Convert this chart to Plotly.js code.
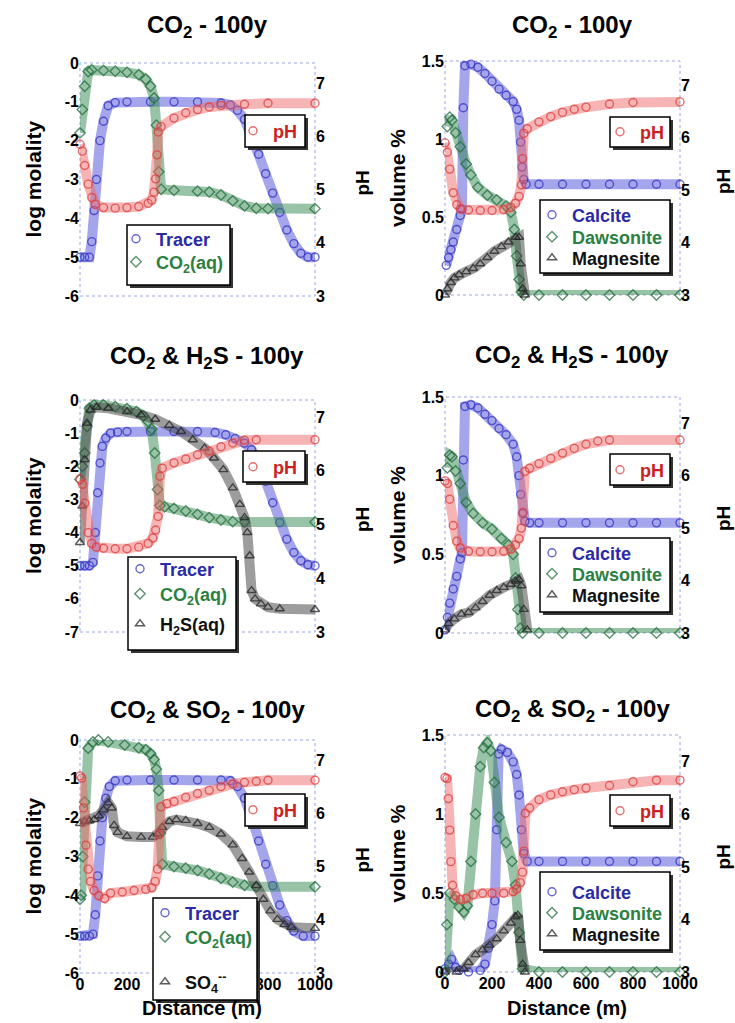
<!DOCTYPE html>
<html><head><meta charset="utf-8">
<script src="https://cdn.plot.ly/plotly-3.0.1.min.js"></script>
<style>html,body{margin:0;padding:0;background:#fff}#chart{width:735px;height:1023px}</style>
</head><body><div id="chart"></div>
<script>
// ---------------- DATA (distance in m; log molality / volume % / pH) ----------------
const distTicks = [0, 200, 400, 600, 800, 1000];
const logTicks6 = [0, -1, -2, -3, -4, -5, -6];
const logLabels6 = ['0', '-1', '-2', '-3', '-4', '-5', '-6'];
const logTicks7 = [0, -1, -2, -3, -4, -5, -6, -7];
const logLabels7 = ['0', '-1', '-2', '-3', '-4', '-5', '-6', '-7'];
const volTicks = [0, 0.5, 1, 1.5];
const volLabels = ['0', '0.5', '1', '1.5'];
const phTicks = [3, 4, 5, 6, 7];

// Panel 1: CO2 - 100y (aqueous)
const p1TracerX = [0,20,40,50,60,70,85,100,120,150,200,300,400,500,600,640,670,700,730,760,790,820,850,880,910,940,970,1000];
const p1TracerY = [-5,-5,-5,-4.6,-3.8,-3.0,-2.0,-1.5,-1.1,-1.02,-1.0,-1.0,-1.0,-1.0,-1.03,-1.08,-1.22,-1.45,-1.85,-2.35,-2.85,-3.35,-3.85,-4.3,-4.65,-4.9,-5.0,-5.0];
const p1Co2X = [0,10,20,35,50,100,150,200,250,280,300,315,325,335,345,400,500,550,600,650,700,750,800,1000];
const p1Co2Y = [-1.8,-1.2,-0.6,-0.22,-0.18,-0.19,-0.21,-0.24,-0.3,-0.42,-0.6,-0.9,-1.6,-2.8,-3.25,-3.28,-3.3,-3.32,-3.4,-3.55,-3.68,-3.74,-3.75,-3.75];
const p1PhX = [0,10,20,35,50,65,100,150,200,250,290,305,315,322,328,333,345,400,450,500,550,600,700,800,1000];
const p1PhY = [5.85,5.72,5.45,5.1,4.85,4.72,4.66,4.65,4.66,4.68,4.74,4.8,4.95,5.2,5.65,6.08,6.18,6.34,6.44,6.5,6.55,6.58,6.6,6.62,6.62];

// Panel 2: CO2 - 100y (minerals)
const p2CalciteX = [5,15,25,35,50,65,72,78,85,110,140,170,200,230,260,290,305,315,322,328,335,345,400,500,600,700,800,900,1000];
const p2CalciteY = [0.19,0.24,0.29,0.34,0.42,0.51,0.55,1.2,1.47,1.48,1.46,1.42,1.37,1.32,1.28,1.24,1.19,1.12,0.98,0.82,0.74,0.71,0.71,0.71,0.71,0.71,0.71,0.71,0.71];
const p2DawsoniteX = [10,20,30,45,65,90,110,140,180,220,260,280,295,305,315,325,335,400,500,600,700,800,900,1000];
const p2DawsoniteY = [1.08,1.14,1.12,1.04,0.95,0.84,0.77,0.69,0.64,0.61,0.57,0.53,0.42,0.25,0.1,0.02,0,0,0,0,0,0,0,0];
const p2MagnesiteX = [0,10,25,40,60,90,120,150,180,210,240,270,300,315,322,330,340];
const p2MagnesiteY = [0,0.04,0.08,0.11,0.13,0.15,0.17,0.2,0.24,0.28,0.31,0.34,0.37,0.37,0.2,0.04,0];
const p2PhX = [0,10,20,35,50,65,100,150,200,250,280,300,315,325,330,335,350,400,450,500,550,600,700,800,1000];
const p2PhY = [5.9,5.72,5.4,4.95,4.72,4.64,4.62,4.61,4.61,4.63,4.67,4.75,4.88,5.1,5.6,6.08,6.17,6.3,6.4,6.48,6.54,6.58,6.64,6.67,6.68];

// Panel 3: CO2 & H2S - 100y (aqueous)
const p3TracerX = [0,20,40,55,65,75,85,95,110,130,160,200,300,400,500,575,620,660,700,730,760,790,820,850,880,910,940,970,1000];
const p3TracerY = [-5,-5,-5,-4.9,-4.0,-2.8,-1.9,-1.4,-1.15,-1.0,-0.97,-0.95,-0.95,-0.95,-0.95,-0.98,-1.05,-1.16,-1.3,-1.5,-1.85,-2.45,-3.1,-3.7,-4.2,-4.6,-4.85,-4.97,-5.0];
const p3Co2X = [0,10,20,30,40,60,100,150,200,240,270,290,305,318,330,340,360,400,450,500,550,600,650,700,1000];
const p3Co2Y = [-2.4,-2.0,-1.6,-0.8,-0.25,-0.15,-0.15,-0.2,-0.26,-0.35,-0.48,-0.65,-0.88,-1.6,-2.7,-3.18,-3.22,-3.27,-3.35,-3.45,-3.55,-3.62,-3.67,-3.68,-3.68];
const p3H2sX = [0,10,20,30,45,70,120,200,260,320,380,430,480,530,570,610,650,680,700,712,722,730,745,770,800,850,1000];
const p3H2sY = [-4.3,-3.2,-1.8,-0.7,-0.3,-0.22,-0.25,-0.35,-0.45,-0.58,-0.76,-0.95,-1.2,-1.45,-1.75,-2.1,-2.65,-3.15,-3.55,-4.0,-4.7,-5.75,-6.0,-6.15,-6.25,-6.3,-6.32];
const p3PhX = [0,10,20,35,50,70,100,150,200,250,290,310,322,332,340,350,400,450,500,550,600,650,700,750,1000];
const p3PhY = [5.85,5.75,5.4,4.85,4.65,4.58,4.56,4.55,4.55,4.58,4.65,4.75,4.9,5.15,5.9,6.05,6.15,6.22,6.3,6.37,6.45,6.52,6.57,6.58,6.58];

// Panel 4: CO2 & H2S - 100y (minerals)
const p4CalciteX = [0,10,20,35,50,65,72,78,85,110,140,170,200,230,260,290,305,315,322,330,340,360,400,500,600,700,800,900,1000];
const p4CalciteY = [0.02,0.1,0.19,0.28,0.36,0.47,0.51,1.1,1.44,1.45,1.43,1.39,1.35,1.3,1.26,1.2,1.12,1.0,0.88,0.76,0.71,0.7,0.7,0.7,0.7,0.7,0.7,0.7,0.7];
const p4DawsoniteX = [10,20,30,45,65,90,120,160,200,240,270,290,300,310,320,330,400,500,600,700,800,900,1000];
const p4DawsoniteY = [1.05,1.13,1.12,1.03,0.95,0.83,0.76,0.7,0.66,0.6,0.56,0.5,0.35,0.15,0.03,0,0,0,0,0,0,0,0];
const p4MagnesiteX = [0,15,40,70,100,130,160,190,220,250,280,300,315,325,335,350];
const p4MagnesiteY = [0.02,0.06,0.09,0.12,0.13,0.16,0.2,0.24,0.27,0.29,0.31,0.33,0.34,0.3,0.15,0.02];
const p4PhX = [0,10,20,35,50,65,100,150,200,250,280,300,315,325,332,340,360,400,450,500,550,600,650,700,1000];
const p4PhY = [5.9,5.85,5.55,5.05,4.75,4.62,4.56,4.55,4.55,4.56,4.6,4.68,4.8,5.0,5.3,6.08,6.14,6.23,6.33,6.43,6.52,6.6,6.66,6.68,6.68];

// Panel 5: CO2 & SO2 - 100y (aqueous)
const p5TracerX = [0,20,40,55,65,75,85,95,110,125,150,200,300,400,500,600,640,670,700,730,760,790,820,850,880,910,950,1000];
const p5TracerY = [-5.05,-5.05,-5.05,-5.0,-4.5,-3.5,-2.6,-2.0,-1.5,-1.2,-1.05,-1.03,-1.03,-1.03,-1.03,-1.03,-1.05,-1.2,-1.5,-2.0,-2.6,-3.2,-3.75,-4.25,-4.65,-4.92,-5.05,-5.05];
const p5Co2X = [0,5,12,20,35,55,78,120,190,250,280,300,315,325,335,342,350,400,450,500,550,600,650,700,750,1000];
const p5Co2Y = [-4.1,-4.0,-3.0,-1.6,-0.21,-0.05,0,-0.05,-0.13,-0.2,-0.25,-0.35,-0.5,-0.75,-1.3,-2.4,-3.2,-3.26,-3.3,-3.36,-3.45,-3.56,-3.66,-3.74,-3.78,-3.78];
const p5So4X = [0,20,40,60,80,100,120,135,145,160,200,260,310,330,350,380,410,450,500,550,600,650,690,720,750,780,810,840,870,900,1000];
const p5So4Y = [-2.15,-2.1,-2.08,-2.05,-1.95,-1.8,-1.62,-1.75,-2.2,-2.38,-2.48,-2.5,-2.5,-2.42,-2.25,-2.1,-2.05,-2.07,-2.15,-2.25,-2.42,-2.7,-3.05,-3.4,-3.75,-4.1,-4.4,-4.62,-4.75,-4.82,-4.85];
const p5PhX = [0,7,15,25,35,45,60,80,105,130,180,230,280,305,320,330,338,345,370,400,450,500,550,600,650,700,750,800,1000];
const p5PhY = [6.7,6.66,6.1,5.4,4.95,4.72,4.55,4.45,4.4,4.5,4.52,4.55,4.57,4.6,4.72,4.95,5.6,6.12,6.18,6.22,6.3,6.37,6.43,6.5,6.55,6.58,6.6,6.62,6.62];

// Panel 6: CO2 & SO2 - 100y (minerals)
const p6CalciteX = [0,15,28,45,60,100,150,170,185,200,212,220,228,240,265,290,305,315,325,335,350,400,500,600,700,800,900,1000];
const p6CalciteY = [0.02,0.05,0.08,0.03,0.01,0,0.01,0.05,0.15,0.3,0.45,0.9,1.38,1.41,1.39,1.33,1.25,1.12,0.9,0.75,0.7,0.7,0.7,0.7,0.7,0.7,0.7,0.7];
const p6DawsoniteX = [0,8,20,40,60,80,95,110,130,150,165,180,195,210,230,260,285,300,315,330,400,500,600,700,800,900,1000];
const p6DawsoniteY = [0,0.3,0.5,0.46,0.41,0.38,0.42,0.7,1.0,1.3,1.42,1.45,1.4,1.2,0.98,0.82,0.7,0.55,0.25,0.02,0,0,0,0,0,0,0];
const p6MagnesiteX = [0,50,80,100,130,160,190,220,250,280,300,310,320,330,340];
const p6MagnesiteY = [0,0,0.02,0.06,0.11,0.14,0.17,0.21,0.26,0.31,0.35,0.36,0.2,0.05,0];
const p6PhX = [0,8,14,20,25,32,45,65,90,120,160,200,250,290,305,320,330,336,342,360,400,450,500,550,600,700,800,900,1000];
const p6PhY = [6.7,6.68,6.3,5.7,5.1,4.65,4.45,4.38,4.4,4.47,4.5,4.5,4.5,4.53,4.58,4.7,4.9,5.3,6.02,6.12,6.28,6.37,6.43,6.47,6.5,6.55,6.62,6.65,6.65];

// ---------------- STYLE / LAYOUT ----------------
const W = 735, H = 1023;
const px = v => v / W, py = v => 1 - v / H;
const FONT = 'Liberation Sans, Arial, Helvetica, sans-serif';
const TF = {family: FONT, size: 16, color: '#000', weight: 'bold'};
const C = {
  blue:  {band: 'rgba(75,75,215,0.5)',  mark: 'rgba(50,50,195,0.75)',  text: '#2a2aa8'},
  green: {band: 'rgba(50,135,80,0.5)',  mark: 'rgba(35,110,60,0.75)',  text: '#2c8040'},
  red:   {band: 'rgba(238,105,105,0.5)',mark: 'rgba(220,60,60,0.75)',  text: '#cc2020'},
  black: {band: 'rgba(60,60,60,0.5)',   mark: 'rgba(35,35,35,0.75)',   text: '#111111'}
};

const panels = [
  {box: [80, 63, 315, 296], left: [-6, 0], lt: logTicks6, ll: logLabels6, ph: [3, 7.375], bottom: false,
   leftTitle: 'log molality', ltx: 33, rtx: 362, tx: 207, ty: 27, title: 'CO<sub>2</sub> - 100y',
   boxes: [[127, 225, 230, 285], [245, 115, 305, 147]],
   series: [
     {x: p1TracerX, y: p1TracerY, side: 'L', c: 'blue', sym: 'circle-open', name: 'Tracer', pos: [156, 239]},
     {x: p1Co2X, y: p1Co2Y, side: 'L', c: 'green', sym: 'diamond-open', name: 'CO<sub>2</sub>(aq)', pos: [156, 262]},
     {x: p1PhX, y: p1PhY, side: 'R', c: 'red', sym: 'circle-open', name: 'pH', pos: [273, 131]}]},
  {box: [445, 61, 680, 295], left: [0, 1.5], lt: volTicks, ll: volLabels, ph: [3, 7.46], bottom: false,
   leftTitle: 'volume %', ltx: 397, rtx: 723, tx: 572, ty: 27, title: 'CO<sub>2</sub> - 100y',
   boxes: [[540, 200, 670, 273], [610, 117, 670, 147]],
   series: [
     {x: p2CalciteX, y: p2CalciteY, side: 'L', c: 'blue', sym: 'circle-open', name: 'Calcite', pos: [572, 215]},
     {x: p2DawsoniteX, y: p2DawsoniteY, side: 'L', c: 'green', sym: 'diamond-open', name: 'Dawsonite', pos: [572, 237]},
     {x: p2MagnesiteX, y: p2MagnesiteY, side: 'L', c: 'black', sym: 'triangle-up-open', name: 'Magnesite', pos: [572, 258]},
     {x: p2PhX, y: p2PhY, side: 'R', c: 'red', sym: 'circle-open', name: 'pH', pos: [640, 132]}]},
  {box: [80, 400, 315, 632], left: [-7, 0], lt: logTicks7, ll: logLabels7, ph: [3, 7.32], bottom: false,
   leftTitle: 'log molality', ltx: 33, rtx: 362, tx: 207, ty: 357, title: 'CO<sub>2</sub> &amp; H<sub>2</sub>S - 100y',
   boxes: [[128, 557, 236, 650], [243, 451, 305, 482]],
   series: [
     {x: p3TracerX, y: p3TracerY, side: 'L', c: 'blue', sym: 'circle-open', name: 'Tracer', pos: [160, 569]},
     {x: p3Co2X, y: p3Co2Y, side: 'L', c: 'green', sym: 'diamond-open', name: 'CO<sub>2</sub>(aq)', pos: [160, 594]},
     {x: p3H2sX, y: p3H2sY, side: 'L', c: 'black', sym: 'triangle-up-open', name: 'H<sub>2</sub>S(aq)', pos: [160, 624]},
     {x: p3PhX, y: p3PhY, side: 'R', c: 'red', sym: 'circle-open', name: 'pH', pos: [273, 467]}]},
  {box: [445, 397, 680, 633], left: [0, 1.5], lt: volTicks, ll: volLabels, ph: [3, 7.5], bottom: false,
   leftTitle: 'volume %', ltx: 397, rtx: 723, tx: 572, ty: 356, title: 'CO<sub>2</sub> &amp; H<sub>2</sub>S - 100y',
   boxes: [[540, 538, 670, 612], [610, 454, 670, 485]],
   series: [
     {x: p4CalciteX, y: p4CalciteY, side: 'L', c: 'blue', sym: 'circle-open', name: 'Calcite', pos: [572, 553]},
     {x: p4DawsoniteX, y: p4DawsoniteY, side: 'L', c: 'green', sym: 'diamond-open', name: 'Dawsonite', pos: [572, 574]},
     {x: p4MagnesiteX, y: p4MagnesiteY, side: 'L', c: 'black', sym: 'triangle-up-open', name: 'Magnesite', pos: [572, 595]},
     {x: p4PhX, y: p4PhY, side: 'R', c: 'red', sym: 'circle-open', name: 'pH', pos: [640, 470]}]},
  {box: [80, 740, 315, 973], left: [-6, 0], lt: logTicks6, ll: logLabels6, ph: [3, 7.375], bottom: true,
   leftTitle: 'log molality', ltx: 33, rtx: 362, tx: 207, ty: 711, title: 'CO<sub>2</sub> &amp; SO<sub>2</sub> - 100y',
   boxes: [[153, 898, 257, 1000], [245, 794, 305, 826]],
   series: [
     {x: p5TracerX, y: p5TracerY, side: 'L', c: 'blue', sym: 'circle-open', name: 'Tracer', pos: [185, 913]},
     {x: p5Co2X, y: p5Co2Y, side: 'L', c: 'green', sym: 'diamond-open', name: 'CO<sub>2</sub>(aq)', pos: [185, 937]},
     {x: p5So4X, y: p5So4Y, side: 'L', c: 'black', sym: 'triangle-up-open', name: 'SO<sub>4</sub><sup>--</sup>', pos: [185, 982]},
     {x: p5PhX, y: p5PhY, side: 'R', c: 'red', sym: 'circle-open', name: 'pH', pos: [273, 810]}]},
  {box: [445, 735, 680, 972], left: [0, 1.5], lt: volTicks, ll: volLabels, ph: [3, 7.51], bottom: true,
   leftTitle: 'volume %', ltx: 397, rtx: 723, tx: 572, ty: 710, title: 'CO<sub>2</sub> &amp; SO<sub>2</sub> - 100y',
   boxes: [[540, 872, 670, 950], [610, 795, 670, 826]],
   series: [
     {x: p6CalciteX, y: p6CalciteY, side: 'L', c: 'blue', sym: 'circle-open', name: 'Calcite', pos: [572, 892]},
     {x: p6DawsoniteX, y: p6DawsoniteY, side: 'L', c: 'green', sym: 'diamond-open', name: 'Dawsonite', pos: [572, 913]},
     {x: p6MagnesiteX, y: p6MagnesiteY, side: 'L', c: 'black', sym: 'triangle-up-open', name: 'Magnesite', pos: [572, 934]},
     {x: p6PhX, y: p6PhY, side: 'R', c: 'red', sym: 'circle-open', name: 'pH', pos: [640, 811]}]}
];

const traces = [];
const layout = {
  width: W, height: H, autosize: false,
  margin: {l: 0, r: 0, t: 0, b: 0},
  paper_bgcolor: '#ffffff', plot_bgcolor: 'rgba(0,0,0,0)',
  font: {family: FONT, color: '#000'},
  showlegend: true, shapes: [], annotations: []
};

let legN = 0;
panels.forEach((p, i) => {
  const k = i + 1;
  const xk = k === 1 ? 'x' : 'x' + k;
  const li = 2 * k - 1, ri = 2 * k;
  const yL = li === 1 ? 'y' : 'y' + li, yR = 'y' + ri;
  const xa = k === 1 ? 'xaxis' : 'xaxis' + k;
  const yaL = li === 1 ? 'yaxis' : 'yaxis' + li, yaR = 'yaxis' + ri;
  const [x0, y0, x1, y1] = p.box;

  layout[xa] = {domain: [px(x0), px(x1)], range: [0, 1000], anchor: yL, showgrid: false, zeroline: false,
    showline: false, ticks: '', showticklabels: p.bottom, tickvals: distTicks, ticktext: distTicks.map(String),
    tickfont: TF, fixedrange: true};
  layout[yaL] = {domain: [py(y1), py(y0)], range: p.left, anchor: xk, showgrid: false, zeroline: false,
    showline: false, ticks: '', tickvals: p.lt, ticktext: p.ll, tickfont: TF, fixedrange: true};
  layout[yaR] = {overlaying: yL, side: 'right', anchor: xk, range: p.ph, showgrid: false, zeroline: false,
    showline: false, ticks: '', tickvals: phTicks, ticktext: phTicks.map(String), tickfont: TF, fixedrange: true};

  // plot frame (dotted light blue)
  layout.shapes.push({type: 'rect', xref: xk + ' domain', yref: yL + ' domain', x0: 0, x1: 1, y0: 0, y1: 1,
    line: {color: '#9ea6e4', width: 1, dash: 'dot'}, layer: 'below'});

  // legend boxes with drop shadow
  p.boxes.forEach(b => {
    const [bx0, by0, bx1, by1] = b;
    layout.shapes.push({type: 'rect', xref: 'paper', yref: 'paper', x0: px(bx0 + 3), x1: px(bx1 + 3),
      y0: py(by1 + 3), y1: py(by0 + 3), fillcolor: '#333333', line: {width: 0}, layer: 'above'});
    layout.shapes.push({type: 'rect', xref: 'paper', yref: 'paper', x0: px(bx0), x1: px(bx1),
      y0: py(by1), y1: py(by0), fillcolor: '#ffffff', line: {color: '#000', width: 1.5}, layer: 'above'});
  });

  p.series.forEach(s => {
    legN += 1;
    const id = legN === 1 ? 'legend' : 'legend' + legN;
    layout[id] = {x: px(s.pos[0] - 40), y: py(s.pos[1]), xanchor: 'left', yanchor: 'middle', xref: 'paper', yref: 'paper',
      bgcolor: 'rgba(0,0,0,0)', borderwidth: 0, tracegroupgap: 0, itemclick: false, itemdoubleclick: false,
      font: {family: FONT, size: 18, color: '#000', weight: 'bold'}};
    const ya = s.side === 'L' ? yL : yR;
    const col = C[s.c];
    traces.push({type: 'scatter', mode: 'lines', x: s.x, y: s.y, xaxis: xk, yaxis: ya,
      line: {color: col.band, width: 10}, showlegend: false, hoverinfo: 'skip', cliponaxis: false});
    traces.push({type: 'scatter', mode: 'markers', x: s.x, y: s.y, xaxis: xk, yaxis: ya,
      marker: {symbol: s.sym, size: 8, color: col.mark, line: {width: 1.4, color: col.mark}},
      name: '<b><span style="color:' + col.text + '">' + s.name + '</span></b>',
      legend: id, showlegend: true, cliponaxis: false});
  });

  // titles
  const cy = (y0 + y1) / 2;
  layout.annotations.push({xref: 'paper', yref: 'paper', x: px(p.tx), y: py(p.ty), xanchor: 'center', yanchor: 'middle',
    text: '<b>' + p.title + '</b>', showarrow: false, font: {family: FONT, size: 24, color: '#000'}});
  layout.annotations.push({xref: 'paper', yref: 'paper', x: px(p.ltx), y: py(cy), xanchor: 'center', yanchor: 'middle',
    textangle: -90, text: '<b>' + p.leftTitle + '</b>', showarrow: false, font: {family: FONT, size: 21, color: '#000'}});
  layout.annotations.push({xref: 'paper', yref: 'paper', x: px(p.rtx), y: py(cy + 4), xanchor: 'center', yanchor: 'middle',
    textangle: -90, text: '<b>pH</b>', showarrow: false, font: {family: FONT, size: 19, color: '#000'}});
  if (p.bottom) {
    layout.annotations.push({xref: 'paper', yref: 'paper', x: px((x0 + x1) / 2 + 4), y: py(1008), xanchor: 'center', yanchor: 'middle',
      text: '<b>Distance (m)</b>', showarrow: false, font: {family: FONT, size: 20, color: '#000'}});
  }
});

Plotly.newPlot('chart', traces, layout, {staticPlot: true, displayModeBar: false});
</script></body></html>
